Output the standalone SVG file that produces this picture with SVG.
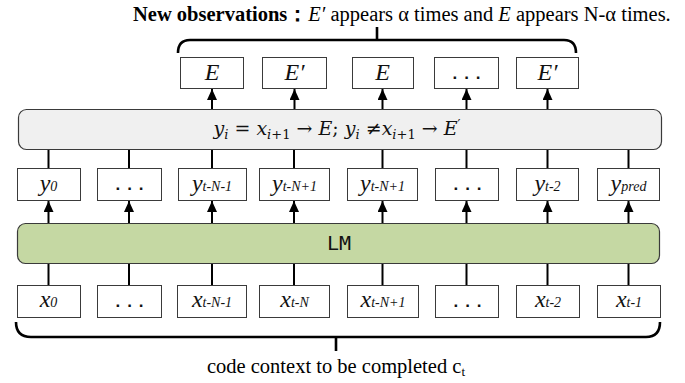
<svg xmlns="http://www.w3.org/2000/svg" width="685" height="383" viewBox="0 0 685 383">
<defs>
<style>
.box{fill:#fff;stroke:#3a3a3a;stroke-width:1}
.lbl{font-family:"Liberation Serif",serif;font-style:italic;font-size:24px;fill:#111;text-anchor:middle}
.sub{font-size:14px}
.dots{font-family:"Liberation Sans",sans-serif;font-weight:bold;font-size:17px;fill:#111;text-anchor:middle;letter-spacing:7px}
.ln{stroke:#000;stroke-width:2;fill:none}
.brace{stroke:#000;stroke-width:2.6;fill:none}
.txt{font-family:"Liberation Serif",serif;font-size:20.5px;fill:#000}
</style>
<marker id="ah" viewBox="0 0 11 10" refX="11" refY="5" markerWidth="11" markerHeight="10" markerUnits="userSpaceOnUse" orient="auto">
<path d="M0,0 L11,5 L0,10 z" fill="#000"/>
</marker>
</defs>

<g id="title">
<text class="txt" x="133" y="21"><tspan font-weight="bold">New observations：</tspan><tspan font-style="italic">E′</tspan> appears α times and <tspan font-style="italic">E</tspan> appears N-α times.</text>
</g>

<g id="braces">
<path class="brace" d="M178,53 Q178,40 190,40 L564,40 Q576,40 576,53"/>
<line class="brace" x1="377" y1="27" x2="377" y2="40"/>
<path class="brace" d="M16,322 Q16,337 31,337 L646,337 Q660,337 660,322"/>
<line class="brace" x1="336" y1="337" x2="336" y2="351"/>
</g>

<g id="connectors">
<line class="ln" x1="212" y1="109" x2="212" y2="89" marker-end="url(#ah)"/>
<line class="ln" x1="294.5" y1="109" x2="294.5" y2="89" marker-end="url(#ah)"/>
<line class="ln" x1="382.5" y1="109" x2="382.5" y2="89" marker-end="url(#ah)"/>
<line class="ln" x1="466.5" y1="109" x2="466.5" y2="89" marker-end="url(#ah)"/>
<line class="ln" x1="547.5" y1="109" x2="547.5" y2="89" marker-end="url(#ah)"/>
<line class="ln" x1="48.5" y1="168" x2="48.5" y2="150"/>
<line class="ln" x1="129" y1="168" x2="129" y2="150"/>
<line class="ln" x1="212" y1="168" x2="212" y2="150"/>
<line class="ln" x1="294" y1="168" x2="294" y2="150"/>
<line class="ln" x1="382.5" y1="168" x2="382.5" y2="150"/>
<line class="ln" x1="466.5" y1="168" x2="466.5" y2="150"/>
<line class="ln" x1="547.5" y1="168" x2="547.5" y2="150"/>
<line class="ln" x1="628.5" y1="168" x2="628.5" y2="150"/>
<line class="ln" x1="48.5" y1="223" x2="48.5" y2="201" marker-end="url(#ah)"/>
<line class="ln" x1="129" y1="223" x2="129" y2="201" marker-end="url(#ah)"/>
<line class="ln" x1="212" y1="223" x2="212" y2="201" marker-end="url(#ah)"/>
<line class="ln" x1="294" y1="223" x2="294" y2="201" marker-end="url(#ah)"/>
<line class="ln" x1="382.5" y1="223" x2="382.5" y2="201" marker-end="url(#ah)"/>
<line class="ln" x1="466.5" y1="223" x2="466.5" y2="201" marker-end="url(#ah)"/>
<line class="ln" x1="547.5" y1="223" x2="547.5" y2="201" marker-end="url(#ah)"/>
<line class="ln" x1="628.5" y1="223" x2="628.5" y2="201" marker-end="url(#ah)"/>
<line class="ln" x1="48.5" y1="285" x2="48.5" y2="263"/>
<line class="ln" x1="129" y1="285" x2="129" y2="263"/>
<line class="ln" x1="212" y1="285" x2="212" y2="263"/>
<line class="ln" x1="294" y1="285" x2="294" y2="263"/>
<line class="ln" x1="382.5" y1="285" x2="382.5" y2="263"/>
<line class="ln" x1="466.5" y1="285" x2="466.5" y2="263"/>
<line class="ln" x1="547.5" y1="285" x2="547.5" y2="263"/>
<line class="ln" x1="628.5" y1="285" x2="628.5" y2="263"/>
</g>

<g id="out1"><rect class="box" x="180.5" y="57.5" width="63" height="31"/><text class="lbl" x="212" y="80" font-size="20">E</text></g>
<g id="out2"><rect class="box" x="262.5" y="57.5" width="64" height="31"/><text class="lbl" x="294.5" y="80" font-size="20">E′</text></g>
<g id="out3"><rect class="box" x="352.5" y="57.5" width="61" height="31"/><text class="lbl" x="382.5" y="80" font-size="20">E</text></g>
<g id="out4"><rect class="box" x="434.5" y="57.5" width="64" height="31"/><text class="dots" x="470" y="79">...</text></g>
<g id="out5"><rect class="box" x="516.5" y="57.5" width="62" height="31"/><text class="lbl" x="547.5" y="80" font-size="20">E′</text></g>

<g id="rule">
<rect x="18.5" y="109.5" width="643" height="40" rx="8" fill="#f0f0f0" stroke="#3a3a3a" stroke-width="1.2"/>
<text font-family="'DejaVu Serif',serif" font-size="19px" fill="#111" x="337" y="135" text-anchor="middle"><tspan font-style="italic">y</tspan><tspan font-style="italic" font-size="13" dy="4">i</tspan><tspan dy="-4"> = </tspan><tspan font-style="italic">x</tspan><tspan font-style="italic" font-size="13" dy="4">i</tspan><tspan font-size="13">+1</tspan><tspan dy="-4"> → </tspan><tspan font-style="italic">E</tspan>; <tspan font-style="italic">y</tspan><tspan font-style="italic" font-size="13" dy="4">i</tspan><tspan dy="-4">  ≠</tspan><tspan font-style="italic">x</tspan><tspan font-style="italic" font-size="13" dy="4">i</tspan><tspan font-size="13">+1</tspan><tspan dy="-4"> → </tspan><tspan font-style="italic">E</tspan><tspan dy="-6" font-size="13">′</tspan></text>
</g>

<g id="y0"><rect class="box" x="17.5" y="168.5" width="63" height="32"/><text class="lbl" x="48.5" y="191">y<tspan class="sub">0</tspan></text></g>
<g id="y1"><rect class="box" x="97.5" y="168.5" width="64" height="32"/><text class="dots" x="133" y="190">...</text></g>
<g id="y2"><rect class="box" x="178.5" y="168.5" width="68" height="32"/><text class="lbl" x="212" y="191">y<tspan class="sub">t-N-1</tspan></text></g>
<g id="y3"><rect class="box" x="259.5" y="168.5" width="70" height="32"/><text class="lbl" x="294.5" y="191">y<tspan class="sub">t-N+1</tspan></text></g>
<g id="y4"><rect class="box" x="347.5" y="168.5" width="70" height="32"/><text class="lbl" x="382.5" y="191">y<tspan class="sub">t-N+1</tspan></text></g>
<g id="y5"><rect class="box" x="435.5" y="168.5" width="63" height="32"/><text class="dots" x="471" y="190">...</text></g>
<g id="y6"><rect class="box" x="516.5" y="168.5" width="62" height="32"/><text class="lbl" x="547.5" y="191">y<tspan class="sub">t-2</tspan></text></g>
<g id="y7"><rect class="box" x="597.5" y="168.5" width="62" height="32"/><text class="lbl" x="628.5" y="191">y<tspan class="sub">pred</tspan></text></g>

<g id="lm">
<rect x="17.5" y="223.5" width="642" height="40" rx="8" fill="#c5d8a3" stroke="#3a3a3a" stroke-width="1.2"/>
<text x="339" y="250" font-family="'DejaVu Sans Mono',monospace" font-size="20px" fill="#111" text-anchor="middle">LM</text>
</g>

<g id="x0"><rect class="box" x="17.5" y="285.5" width="63" height="32"/><text class="lbl" x="48.5" y="307">x<tspan class="sub">0</tspan></text></g>
<g id="x1"><rect class="box" x="97.5" y="285.5" width="64" height="32"/><text class="dots" x="133" y="307">...</text></g>
<g id="x2"><rect class="box" x="177.5" y="285.5" width="69" height="32"/><text class="lbl" x="212" y="307">x<tspan class="sub">t-N-1</tspan></text></g>
<g id="x3"><rect class="box" x="259.5" y="285.5" width="70" height="32"/><text class="lbl" x="294.5" y="307">x<tspan class="sub">t-N</tspan></text></g>
<g id="x4"><rect class="box" x="347.5" y="285.5" width="71" height="32"/><text class="lbl" x="383" y="307">x<tspan class="sub">t-N+1</tspan></text></g>
<g id="x5"><rect class="box" x="435.5" y="285.5" width="63" height="32"/><text class="dots" x="471" y="307">...</text></g>
<g id="x6"><rect class="box" x="516.5" y="285.5" width="63" height="32"/><text class="lbl" x="548" y="307">x<tspan class="sub">t-2</tspan></text></g>
<g id="x7"><rect class="box" x="597.5" y="285.5" width="63" height="32"/><text class="lbl" x="629" y="307">x<tspan class="sub">t-1</tspan></text></g>

<g id="caption">
<text class="txt" x="336" y="373" text-anchor="middle" font-size="21px">code context to be completed c<tspan font-size="13" dy="3">t</tspan></text>
</g>
</svg>
